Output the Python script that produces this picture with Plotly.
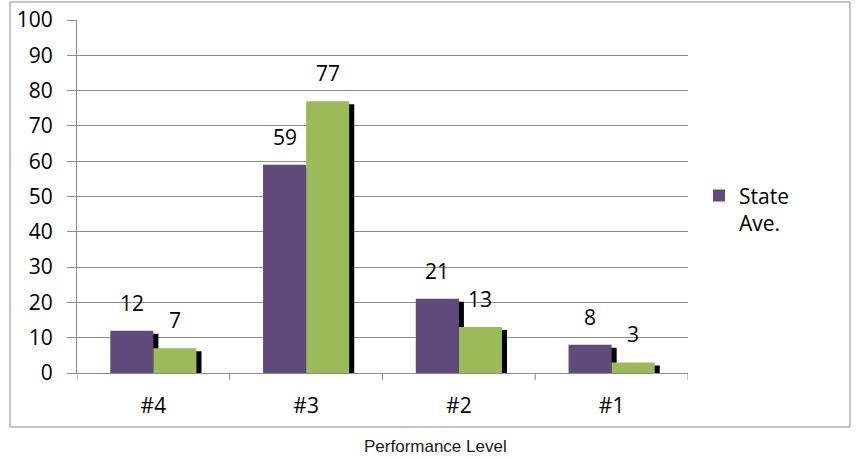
import plotly.graph_objects as go

categories = ["#4", "#3", "#2", "#1"]
state_ave = [12, 59, 21, 8]
school = [7, 77, 13, 3]
y_ticks = [0, 10, 20, 30, 40, 50, 60, 70, 80, 90, 100]

PURPLE = "#604A7B"
GREEN = "#9BBB59"
GRID = "#8C8C8C"
FONT = "Open Sans"
FS = 21

W = 0.282
SH_DX = 0.033
SH_DY = 0.85

idx = list(range(len(categories)))
fig = go.Figure()

# shadows
for vals, off in [(state_ave, -W), (school, 0.0)]:
    fig.add_trace(go.Bar(
        x=idx, y=vals, base=[-SH_DY] * len(vals), width=W, offset=off + SH_DX,
        marker=dict(color="black", line=dict(width=0)), showlegend=False, hoverinfo="skip"))

fig.add_trace(go.Bar(x=idx, y=state_ave, width=W, offset=-W, name="State<br>Ave.",
                     marker=dict(color=PURPLE, line=dict(width=0))))
fig.add_trace(go.Bar(x=idx, y=school, width=W, offset=0.0, name="",
                     marker=dict(color=GREEN, line=dict(width=0)), showlegend=False))

for i, (a, b) in enumerate(zip(state_ave, school)):
    fig.add_annotation(x=i - W / 2, y=a, text=str(a), showarrow=False, yshift=28,
                       xref="x", yref="y", font=dict(size=FS, color="black", family=FONT))
    fig.add_annotation(x=i + W / 2, y=b, text=str(b), showarrow=False, yshift=28,
                       xref="x", yref="y", font=dict(size=FS, color="black", family=FONT))

fig.add_annotation(x=0.586, y=-0.207, xref="paper", yref="paper", text="Performance Level",
                   xanchor="center", yanchor="middle",
                   showarrow=False, font=dict(size=17, family="Liberation Sans", color="#1a1a1a"))

fig.add_shape(type="rect", xref="paper", yref="paper", x0=-0.1097, x1=1.2651, y0=-0.153, y1=1.051,
              line=dict(color="#8C8C8C", width=1), fillcolor="rgba(0,0,0,0)", layer="below")

fig.update_layout(
    width=861, height=460,
    margin=dict(l=77, r=173, t=20, b=87, autoexpand=False),
    paper_bgcolor="white", plot_bgcolor="white",
    barmode="overlay",
    font=dict(family=FONT, size=FS, color="black"),
    showlegend=True,
    legend=dict(x=1.018, y=0.56, xanchor="left", yanchor="top", valign="top",
                font=dict(size=FS, family=FONT), bgcolor="rgba(0,0,0,0)", itemwidth=30),
    xaxis=dict(range=[-0.5, 3.5], tickvals=idx, ticktext=categories, showgrid=False,
               showline=True, linecolor=GRID, linewidth=1, ticks="", zeroline=False,
               ticklabelstandoff=14, fixedrange=True, automargin=False),
    yaxis=dict(range=[0, 100], tickvals=y_ticks, showgrid=True, gridcolor=GRID, gridwidth=1,
               showline=True, linecolor=GRID, linewidth=1, ticks="outside", ticklen=9,
               tickcolor=GRID, zeroline=False, ticklabelstandoff=10, automargin=False,
               fixedrange=True),
)

# category boundary ticks on x axis
for k in range(len(categories) + 1):
    fig.add_shape(type="line", xref="x", yref="paper", x0=k - 0.5, x1=k - 0.5, y0=0, y1=-0.02,
                  line=dict(color=GRID, width=1))

fig.write_html("out.html", config={"displayModeBar": False},
               post_script="document.body.style.margin='0';document.body.style.overflow='hidden';")
